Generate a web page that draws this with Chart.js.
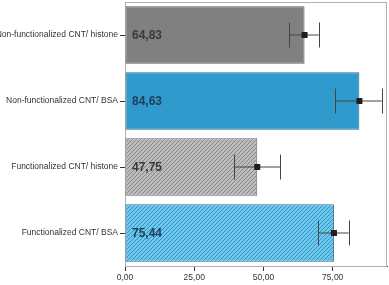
<!DOCTYPE html>
<html>
<head>
<meta charset="utf-8">
<script src="https://cdn.jsdelivr.net/npm/chart.js@4/dist/chart.umd.min.js"></script>
<style>
  html, body { margin: 0; padding: 0; background: #fff; }
  #wrap { width: 389px; height: 285px; }
</style>
</head>
<body>
<div id="wrap"><canvas id="grafico"></canvas></div>
<script>
// datos
const categorias = ['Non-functionalized CNT/ histone', 'Non-functionalized CNT/ BSA', 'Functionalized CNT/ histone', 'Functionalized CNT/ BSA'];
const medias = [64.83, 84.63, 47.75, 75.44];
const errorInferior = [59.3, 76.0, 39.2, 69.8];
const errorSuperior = [70.0, 92.7, 56.0, 80.8];
const marcasX = [0, 25, 50, 75];

function rayado(fondo, linea) {
    const c = document.createElement('canvas');
    c.width = 4; c.height = 4;
    const g = c.getContext('2d');
    g.fillStyle = fondo;
    g.fillRect(0, 0, 4, 4);
    g.strokeStyle = linea;
    g.lineWidth = 1;
    g.beginPath();
    g.moveTo(0, 4); g.lineTo(4, 0);
    g.moveTo(-1, 1); g.lineTo(1, -1);
    g.moveTo(3, 5); g.lineTo(5, 3);
    g.stroke();
    return g.createPattern(c, 'repeat');
}

const coma = v => v.toFixed(2).replace('.', ',');

const colores = ['#808080', '#2f9acb', rayado('#bcbcbc', '#858585'), rayado('#6cc8ee', '#3a90bd')];
const bordes = ['#5e5e5e', '#2a6c8f', '#6a6a6a', '#2f6f92'];
const coloresTexto = ['#3a3a3a', '#1d3e5c', '#3a3a3a', '#1d3e5c'];

const marco = {
    id: 'marco',
    beforeDatasetsDraw(chart) {
        const a = chart.chartArea, ctx = chart.ctx;
        ctx.save();
        ctx.strokeStyle = '#b0b0b0';
        ctx.lineWidth = 1;
        ctx.strokeRect(a.left + 0.5, a.top + 0.5, a.right - a.left - 1, a.bottom - a.top);
        ctx.restore();
    }
};

const errores = {
    id: 'errores',
    afterDatasetsDraw(chart) {
        const ctx = chart.ctx;
        const x = chart.scales.x;
        const meta = chart.getDatasetMeta(0);
        ctx.save();
        meta.data.forEach((barra, i) => {
            const y = barra.y;
            const x1 = x.getPixelForValue(errorInferior[i]);
            const x2 = x.getPixelForValue(errorSuperior[i]);
            const xm = x.getPixelForValue(medias[i]);
            ctx.strokeStyle = '#454545';
            ctx.lineWidth = 1;
            ctx.beginPath();
            ctx.moveTo(x1, y); ctx.lineTo(x2, y);
            ctx.moveTo(Math.round(x1) + 0.5, y - 12.5); ctx.lineTo(Math.round(x1) + 0.5, y + 12.5);
            ctx.moveTo(Math.round(x2) + 0.5, y - 12.5); ctx.lineTo(Math.round(x2) + 0.5, y + 12.5);
            ctx.stroke();
            ctx.fillStyle = '#1e1e1e';
            ctx.fillRect(xm - 3, y - 3, 6, 6);
            // etiqueta del valor
            ctx.fillStyle = coloresTexto[i];
            ctx.font = 'bold 12px "Liberation Sans", Arial, sans-serif';
            ctx.textBaseline = 'middle';
            ctx.textAlign = 'left';
            ctx.fillText(coma(medias[i]), x.getPixelForValue(0) + 7, y + 1);
        });
        ctx.restore();
    }
};

new Chart(document.getElementById('grafico'), {
    type: 'bar',
    data: {
        labels: categorias,
        datasets: [{
            data: medias,
            backgroundColor: colores,
            borderColor: bordes,
            borderWidth: 1,
            borderSkipped: false,
            categoryPercentage: 0.87,
            barPercentage: 1
        }]
    },
    options: {
        indexAxis: 'y',
        responsive: true,
        maintainAspectRatio: false,
        animation: false,
        layout: { padding: { top: 2, right: 2, left: 0, bottom: 0 } },
        plugins: { legend: { display: false }, tooltip: { enabled: false } },
        scales: {
            x: {
                min: 0,
                max: 94.6,
                afterBuildTicks(eje) {
                    eje.ticks = marcasX.map(v => ({ value: v }));
                },
                afterFit(eje) { eje.height = 19; eje.paddingRight = 0; },
                ticks: {
                    callback: v => coma(v),
                    color: '#333',
                    padding: 2,
                    maxRotation: 0,
                    font: { size: 8.5, family: '"Liberation Sans", Arial, sans-serif' }
                },
                grid: { drawOnChartArea: false, tickLength: 5, color: '#333' },
                border: { color: '#333' }
            },
            y: {
                afterFit(eje) { eje.width = 125; eje.paddingTop = 0; eje.paddingBottom = 0; },
                ticks: {
                    color: '#333',
                    padding: 2,
                    font: { size: 8.5, family: '"Liberation Sans", Arial, sans-serif' }
                },
                grid: { drawOnChartArea: false, tickLength: 5, color: '#333', offset: false },
                border: { color: '#333' }
            }
        }
    },
    plugins: [marco, errores]
});
</script>
</body>
</html>
